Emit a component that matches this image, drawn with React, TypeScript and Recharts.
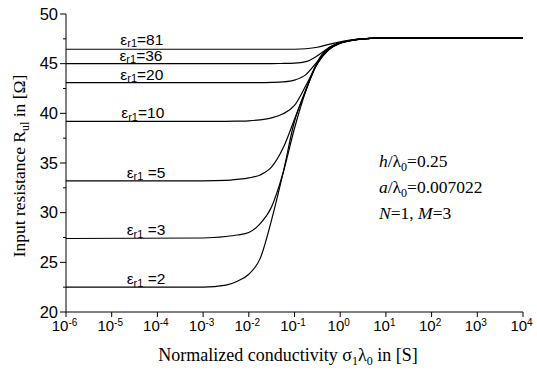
import React from "react";
import { LineChart, Line, XAxis, YAxis, ReferenceDot } from "recharts";

const xExponents = [-6, -3, -2.5, -2.25, -2, -1.75, -1.5, -1.25, -1, -0.75, -0.5, -0.25, 0, 0.25, 0.5, 1, 2, 4];

const eps2 = [22.5, 22.5, 22.7, 23.1, 23.8, 25.4, 29.3, 34.0, 39.2, 42.3, 45.2, 46.6, 47.1, 47.35, 47.5, 47.6, 47.6, 47.6];
const eps3 = [27.4, 27.45, 27.6, 27.75, 28.0, 28.9, 30.6, 34.0, 38.5, 42.3, 45.1, 46.5, 47.1, 47.35, 47.5, 47.6, 47.6, 47.6];
const eps5 = [33.2, 33.2, 33.25, 33.35, 33.5, 33.8, 34.6, 36.5, 39.4, 42.4, 45.0, 46.5, 47.05, 47.35, 47.5, 47.6, 47.6, 47.6];
const eps10 = [39.2, 39.2, 39.2, 39.22, 39.25, 39.35, 39.55, 39.95, 40.8, 42.8, 45.0, 46.4, 47.05, 47.35, 47.5, 47.6, 47.6, 47.6];
const eps20 = [43.1, 43.1, 43.1, 43.1, 43.1, 43.1, 43.12, 43.17, 43.35, 43.9, 45.2, 46.4, 47.05, 47.35, 47.5, 47.6, 47.6, 47.6];
const eps36 = [45.0, 45.0, 45.0, 45.0, 45.0, 45.0, 45.01, 45.02, 45.05, 45.2, 45.8, 46.6, 47.1, 47.35, 47.5, 47.6, 47.6, 47.6];
const eps81 = [46.45, 46.45, 46.45, 46.45, 46.45, 46.45, 46.45, 46.45, 46.45, 46.5, 46.65, 46.95, 47.2, 47.4, 47.5, 47.6, 47.6, 47.6];

const seriesKeys = ["e2", "e3", "e5", "e10", "e20", "e36", "e81"];
const seriesValues = [eps2, eps3, eps5, eps10, eps20, eps36, eps81];
const seriesLabels = ["2", "3", "5", "10", "20", "36", "81"];
const labelSpaced = [true, true, true, false, false, false, false];
const labelXExp = [-4.25, -4.25, -4.25, -4.32, -4.34, -4.36, -4.34];

const xTickExponents = [-6, -5, -4, -3, -2, -1, 0, 1, 2, 3, 4];
const yTicks = [20, 22.5, 25, 27.5, 30, 32.5, 35, 37.5, 40, 42.5, 45, 47.5, 50];

const data = xExponents.map((e, i) => {
  const row: any = { x: Math.pow(10, e) };
  seriesKeys.forEach((k, j) => {
    row[k] = seriesValues[j][i];
  });
  return row;
});

const SANS = "'Liberation Sans', Arial, sans-serif";
const SERIF = "'Liberation Serif', 'Times New Roman', serif";

const XTick = (props: any) => {
  const { x, y, payload } = props;
  const exp = Math.round(Math.log10(payload.value));
  return (
    <g>
      <line x1={x} y1={y} x2={x} y2={y + 5} stroke="#000" strokeWidth={1} />
      <text x={x - 1.5} y={y + 19} fontFamily={SANS} fontSize={15} textAnchor="middle" fill="#000">
        10
        <tspan dy={-5} fontSize={10}>{String(exp)}</tspan>
      </text>
    </g>
  );
};

const YTick = (props: any) => {
  const { x, y, payload } = props;
  const v = payload.value;
  const major = v % 5 === 0;
  return (
    <g>
      <line x1={x - (major ? 6 : 3)} y1={y} x2={x} y2={y} stroke="#000" strokeWidth={1} />
      {major ? (
        <text x={x - 8} y={y + 5.5} fontFamily={SANS} fontSize={16.5} textAnchor="end" fill="#000">
          {v}
        </text>
      ) : null}
    </g>
  );
};

const makeCurveLabel = (text: string, spaced: boolean, lift: number) => (props: any) => {
  const vb = props.viewBox || {};
  const cx = vb.x + (vb.width || 0) / 2;
  const cy = vb.y + (vb.height || 0) / 2;
  return (
    <text x={cx} y={cy - 3 - lift} fontFamily={SANS} fontSize={15.5} textAnchor="middle" fill="#000">
      ε
      <tspan dy={2.5} fontSize={11}>r1</tspan>
      <tspan dy={-2.5}>{(spaced ? " " : "") + "=" + text}</tspan>
    </text>
  );
};

export default function App() {
  return (
    <div style={{ position: "fixed", left: 0, top: 0, width: 537, height: 373, background: "#fff" }}>
      <LineChart
        width={537}
        height={373}
        data={data}
        margin={{ top: 14, right: 14, left: 0, bottom: 0 }}
      >
        <XAxis
          dataKey="x"
          type="number"
          scale="log"
          domain={[1e-6, 1e4]}
          ticks={xTickExponents.map((e) => Math.pow(10, e))}
          tick={<XTick />}
          tickLine={false}
          tickSize={0}
          tickMargin={0}
          height={61}
          axisLine={{ stroke: "#000", strokeWidth: 1 }}
          allowDataOverflow
          interval={0}
        />
        <YAxis
          type="number"
          domain={[20, 50]}
          ticks={yTicks}
          tick={<YTick />}
          tickLine={false}
          tickSize={0}
          tickMargin={0}
          width={66}
          axisLine={{ stroke: "#000", strokeWidth: 1 }}
          interval={0}
        />
        {seriesKeys.map((k) => (
          <Line
            key={k}
            dataKey={k}
            type="monotone"
            stroke="#000"
            strokeWidth={1.2}
            dot={false}
            isAnimationActive={false}
          />
        ))}
        {seriesKeys.map((k, j) => (
          <ReferenceDot
            key={"l" + k}
            x={Math.pow(10, labelXExp[j])}
            y={seriesValues[j][0]}
            r={0}
            fill="none"
            stroke="none"
            label={makeCurveLabel(seriesLabels[j], labelSpaced[j], k === "e81" ? 1.5 : 0)}
          />
        ))}
      </LineChart>
      <svg
        width={537}
        height={373}
        style={{ position: "absolute", left: 0, top: 0, pointerEvents: "none" }}
      >
        <text x={288} y={361} fontFamily={SERIF} fontSize={18} textAnchor="middle" fill="#000">
          Normalized conductivity σ<tspan dy={4} fontSize={12}>1</tspan>
          <tspan dy={-4}>λ</tspan>
          <tspan dy={4} fontSize={12}>0</tspan>
          <tspan dy={-4}> in [S]</tspan>
        </text>
        <text
          transform="translate(25,166) rotate(-90)"
          fontFamily={SERIF}
          fontSize={17.5}
          textAnchor="middle"
          fill="#000"
        >
          Input resistance R<tspan dy={4} fontSize={12}>ul</tspan>
          <tspan dy={-4}> in [Ω]</tspan>
        </text>
        <text x={379} y={167} fontFamily={SERIF} fontSize={17.5} fill="#000">
          <tspan fontStyle="italic">h</tspan>/λ<tspan dy={4} fontSize={12}>0</tspan>
          <tspan dy={-4}>=0.25</tspan>
        </text>
        <text x={379} y={193} fontFamily={SERIF} fontSize={17.5} fill="#000">
          <tspan fontStyle="italic">a</tspan>/λ<tspan dy={4} fontSize={12}>0</tspan>
          <tspan dy={-4}>=0.007022</tspan>
        </text>
        <text x={379} y={219} fontFamily={SERIF} fontSize={17.5} fill="#000">
          <tspan fontStyle="italic">N</tspan>=1, <tspan fontStyle="italic">M</tspan>=3
        </text>
      </svg>
    </div>
  );
}
